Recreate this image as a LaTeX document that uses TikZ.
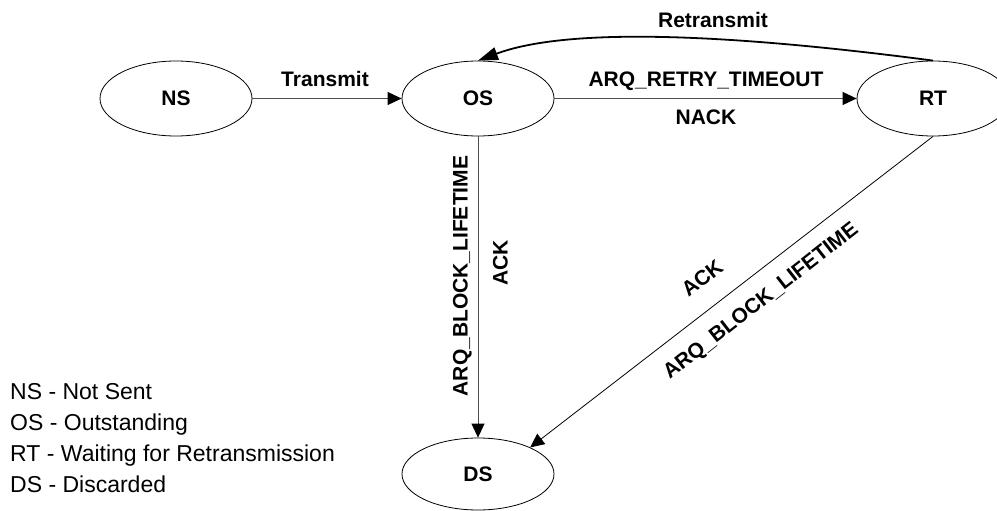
\documentclass[tikz,border=0pt]{standalone}
\usepackage{fontspec}
\setmainfont{Liberation Sans}
\usepackage{tikz}
\usetikzlibrary{shapes, arrows.meta, positioning}

\begin{document}
\begin{tikzpicture}[x=1pt, y=-1pt,
    state/.style={draw, ellipse, line width=0.8pt, minimum width=152pt, minimum height=75pt, inner sep=0pt, font=\bfseries\fontsize{21}{25}\selectfont},
    trans/.style={-{Triangle[length=14pt, width=13pt, color=black]}, line width=0.9pt, draw=black!70},
    lbl/.style={font=\bfseries\fontsize{21}{25}\selectfont, inner sep=0pt, text height=15pt, text depth=0pt}]
  \useasboundingbox (0,0) rectangle (997,511);

  % The states
  \node[state] (ns) at (176, 98.5) {NS};
  \node[state] (os) at (478, 98.5) {OS};
  \node[state] (rt) at (933, 98.5) {RT};
  \node[state, minimum height=72pt] (ds) at (478, 474) {DS};

  % Transitions
  \draw[trans] (ns) -- (os);
  \node[lbl] (transmit) at (325, 79) {Transmit};

  \draw[trans] (os) -- (rt);
  \node[lbl] (timeout) at (706, 79) {ARQ\_RETRY\_TIMEOUT};
  \node[lbl] (nack) at (706, 117) {NACK};

  \draw[-{Triangle[length=20pt, width=13pt]}, line width=1.8pt] (rt.north) .. controls (700, 30) and (560, 30) .. (os.north);
  \node[lbl] (retransmit) at (713, 20) {Retransmit};

  \draw[trans] (os) -- (ds);
  \node[lbl, rotate=90] (lifeos) at (460, 276) {ARQ\_BLOCK\_LIFETIME};
  \node[lbl, rotate=90] (ackos) at (500, 263) {ACK};

  \draw[trans, draw=black, line width=0.8pt] (rt.south) -- (ds.27);
  \node[lbl, rotate=38] (ackrt) at (702, 278) {ACK};
  \node[lbl, rotate=38] (lifert) at (760, 300) {ARQ\_BLOCK\_LIFETIME};

  % Legend
  \node[anchor=north west, align=left, inner sep=0pt, font=\fontsize{23}{31}\selectfont] (legend) at (10, 383.5) {
    NS - Not Sent\\
    OS - Outstanding\\
    RT - Waiting for Retransmission\\
    DS - Discarded
  };
\end{tikzpicture}
\end{document}
